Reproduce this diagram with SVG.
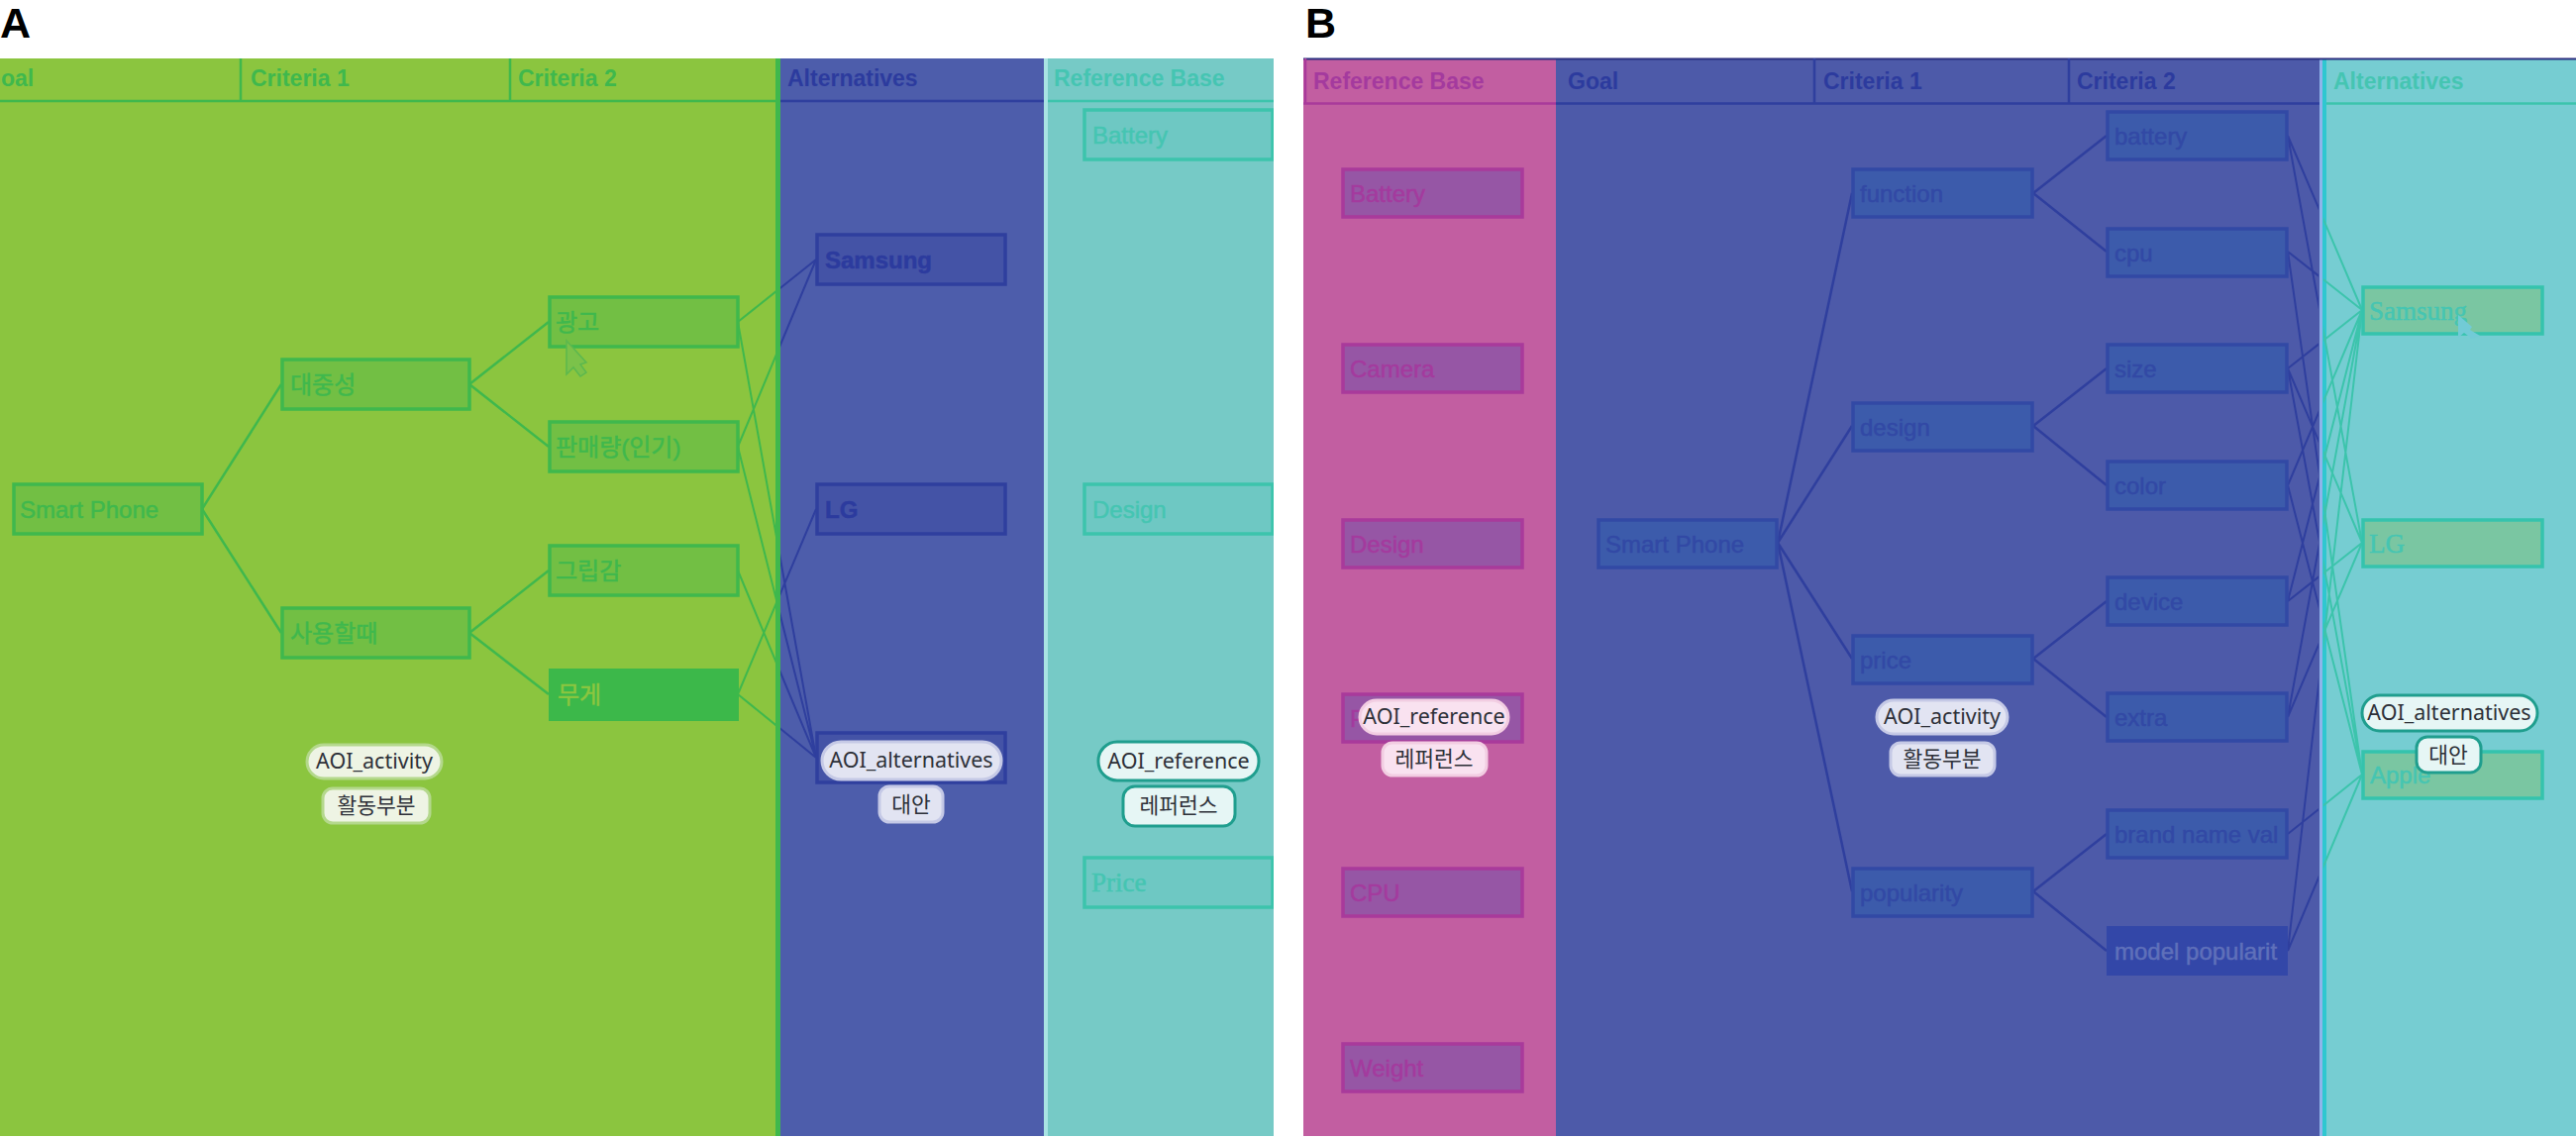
<svg xmlns="http://www.w3.org/2000/svg" width="2601" height="1149" viewBox="0 0 2601 1149">
<style>
text{font-family:"Liberation Sans","Noto Sans CJK KR",sans-serif;font-size:24px;stroke-width:.5}
.pt{font-family:"Noto Sans","Noto Sans CJK KR",sans-serif;font-size:21.5px;fill:#2d3038;text-anchor:middle}
.hl{font-weight:bold;font-size:43px;fill:#000}
.n{stroke-width:3.5}
.gs{stroke:#3fb84d}.gt{fill:#3fb84d;stroke:#3fb84d}.gf{fill:#72bf44}
.bs{stroke:#2f3f9e}.bt{fill:#2c3b9e;stroke:#2c3b9e}.bf{fill:#4453a6}
.ts{stroke:#3cc4ac}.tt{fill:#45c5b2;stroke:#45c5b2}.tf{fill:#6ec8c3}
.ps{stroke:#a93a9b}.pt2{fill:#a43a9e;stroke:#a43a9e}.pf{fill:#9656a5}
.cs{fill:#3c5bab;stroke:#3249a5}.ct{fill:#3249a5;stroke:#3249a5}
.as{fill:#7ac6a2;stroke:#35c3ad}
.h{font-weight:bold;font-size:23px;stroke:none}
.ser{font-family:"Liberation Serif",serif;font-size:27px}
.l{fill:none;stroke-width:2.5}
.thin{fill:none;stroke-width:2}
.pill{stroke-width:3}
</style>
<defs>
<clipPath id="cA1"><rect x="0" y="59" width="784" height="1090"/></clipPath>
<clipPath id="cA2"><rect x="788" y="59" width="266" height="1090"/></clipPath>
<clipPath id="cB1"><rect x="1571" y="59" width="770" height="1090"/></clipPath>
<clipPath id="cB2"><rect x="2346" y="59" width="255" height="1090"/></clipPath>
<clipPath id="cR"><rect x="1054" y="59" width="232" height="1090"/></clipPath>
<clipPath id="cL"><rect x="0" y="59" width="300" height="60"/></clipPath>
<g id="crossA">
<path d="M745 325L824 262M745 325L824 765M745 451L824 262M745 451L824 765M745 576L824 765M745 701L824 514M745 701L824 765"/>
</g>
<g id="crossB">
<path d="M2310 137L2385 313M2310 137L2385 548M2310 254L2385 313M2310 254L2385 782M2310 372L2385 313M2310 372L2385 548M2310 372L2385 782M2310 490L2385 313M2310 490L2385 782M2310 607L2385 313M2310 607L2385 548M2310 724L2385 313M2310 724L2385 548M2310 842L2385 782M2310 960L2385 313M2310 960L2385 782"/>
</g>
</defs>
<rect width="2601" height="1149" fill="#fff"/>
<text class="hl" x="0" y="38">A</text>
<text class="hl" x="1318" y="38">B</text>

<g id="panels">
<rect x="0" y="59" width="788" height="1088" fill="#8bc53f"/>
<rect x="783" y="59" width="5" height="1088" fill="#3fb84d"/>
<rect x="788" y="59" width="266" height="1088" fill="#4d5dab"/>
<rect x="1054" y="59" width="232" height="1088" fill="#76cac6"/>
<rect x="1054" y="59" width="4" height="1088" fill="#a9e3e3"/>
<rect x="1316" y="59" width="255" height="1088" fill="#c25ea1"/>
<rect x="1571" y="59" width="771" height="1088" fill="#4d5aa9"/>
<rect x="2342" y="59" width="259" height="1088" fill="#76cdd2"/>
<rect x="2342" y="59" width="3" height="1088" fill="#8fb4ea"/>
<rect x="2345" y="59" width="4" height="1088" fill="#2ec7d0"/>
<path d="M1316 59.5H2601" stroke="#2b2f80" stroke-width="2" fill="none"/>
<path class="gs l" d="M0 102H783M243 59V102M515 59V102"/>
<path class="bs l" d="M788 102H1054"/>
<path class="ts l" d="M1058 102H1286"/>
<path class="ps l" d="M1318 59V104.5M1316 104.5H1571"/>
<path class="bs l" d="M1571 104.5H2342M1832 59V104.5M2089 59V104.5"/>
<path class="ts l" d="M2349 104.5H2601"/>
<g clip-path="url(#cL)"><text class="gt h" x="-17" y="87">Goal</text></g>
<text class="gt h" x="253" y="87">Criteria 1</text>
<text class="gt h" x="523" y="87">Criteria 2</text>
<text class="bt h" x="795" y="87">Alternatives</text>
<text class="tt h" x="1064" y="87">Reference Base</text>
<text class="pt2 h" x="1326" y="90">Reference Base</text>
<text class="bt h" x="1583" y="90">Goal</text>
<text class="bt h" x="1841" y="90">Criteria 1</text>
<text class="bt h" x="2097" y="90">Criteria 2</text>
<text class="tt h" x="2356" y="90">Alternatives</text>
</g>

<g id="connectors">
<path class="gs l" d="M204 514L284 388M204 514L284 639M474 388L554 325M474 388L554 451M474 639L554 576M474 639L554 701"/>
<use href="#crossA" class="gs thin" clip-path="url(#cA1)"/>
<use href="#crossA" class="bs thin" clip-path="url(#cA2)"/>
<path class="bs l" d="M1795 548L1870 195M1795 548L1870 430M1795 548L1870 665M1795 548L1870 900M2053 195L2127 137M2053 195L2127 254M2053 430L2127 372M2053 430L2127 490M2053 665L2127 607M2053 665L2127 724M2053 900L2127 842M2053 900L2127 960"/>
<use href="#crossB" class="bs thin" clip-path="url(#cB1)"/>
<use href="#crossB" class="ts thin" clip-path="url(#cB2)"/>
</g>

<g id="A-smart-phone"><rect class="n gs gf" x="14" y="489" width="190" height="50"/><text class="gt" x="20" y="523">Smart Phone</text></g>
<g id="A-c1-1"><rect class="n gs gf" x="285" y="363" width="189" height="50"/><text class="gt" x="293" y="397">대중성</text></g>
<g id="A-c1-2"><rect class="n gs gf" x="285" y="614" width="189" height="50"/><text class="gt" x="293" y="648">사용할때</text></g>
<g id="A-c2-1"><rect class="n gs gf" x="555" y="300" width="190" height="50"/><text class="gt" x="561" y="334">광고</text></g>
<g id="A-c2-2"><rect class="n gs gf" x="555" y="426" width="190" height="50"/><text class="gt" x="561" y="460">판매량(인기)</text></g>
<g id="A-c2-3"><rect class="n gs gf" x="555" y="551" width="190" height="50"/><text class="gt" x="561" y="585">그립감</text></g>
<g id="A-c2-4"><rect x="554" y="675" width="192" height="53" fill="#3cb84a"/><text x="563" y="710" fill="#8cc63f" stroke="#8cc63f">무게</text></g>
<g id="A-samsung"><rect class="n bs bf" x="825" y="237" width="190" height="50"/><text class="bt" x="833" y="271" font-weight="bold">Samsung</text></g>
<g id="A-lg"><rect class="n bs bf" x="825" y="489" width="190" height="50"/><text class="bt" x="833" y="523" font-weight="bold">LG</text></g>
<g id="A-apple"><rect class="n bs bf" x="825" y="740" width="190" height="50"/></g>
<g id="A-ref" clip-path="url(#cR)">
<g id="A-battery"><rect class="n ts tf" x="1095" y="111" width="190" height="50"/><text class="tt" x="1103" y="145">Battery</text></g>
<g id="A-design"><rect class="n ts tf" x="1095" y="489" width="190" height="50"/><text class="tt" x="1103" y="523">Design</text></g>
<g id="A-price"><rect class="n ts tf" x="1095" y="866" width="190" height="50"/><text class="tt ser" x="1102" y="900">Price</text></g>
</g>

<g id="B-battery"><rect class="n ps pf" x="1356" y="171" width="181" height="48"/><text class="pt2" x="1363" y="204">Battery</text></g>
<g id="B-camera"><rect class="n ps pf" x="1356" y="348" width="181" height="48"/><text class="pt2" x="1363" y="381">Camera</text></g>
<g id="B-design"><rect class="n ps pf" x="1356" y="525" width="181" height="48"/><text class="pt2" x="1363" y="558">Design</text></g>
<g id="B-price"><rect class="n ps pf" x="1356" y="701" width="181" height="48"/><text class="pt2" x="1363" y="734">Price</text></g>
<g id="B-cpu"><rect class="n ps pf" x="1356" y="877" width="181" height="48"/><text class="pt2" x="1363" y="910">CPU</text></g>
<g id="B-weight"><rect class="n ps pf" x="1356" y="1054" width="181" height="48"/><text class="pt2" x="1363" y="1087">Weight</text></g>

<g id="B-smart-phone"><rect class="n cs" x="1614" y="525" width="180" height="48"/><text class="ct" x="1621" y="558">Smart Phone</text></g>
<g id="B-function"><rect class="n cs" x="1871" y="171" width="181" height="48"/><text class="ct" x="1878" y="204">function</text></g>
<g id="B-design2"><rect class="n cs" x="1871" y="407" width="181" height="48"/><text class="ct" x="1878" y="440">design</text></g>
<g id="B-price2"><rect class="n cs" x="1871" y="642" width="181" height="48"/><text class="ct" x="1878" y="675">price</text></g>
<g id="B-popularity"><rect class="n cs" x="1871" y="877" width="181" height="48"/><text class="ct" x="1878" y="910">popularity</text></g>
<g id="B-batt"><rect class="n cs" x="2128" y="113" width="181" height="48"/><text class="ct" x="2135" y="146">battery</text></g>
<g id="B-cpu2"><rect class="n cs" x="2128" y="231" width="181" height="48"/><text class="ct" x="2135" y="264">cpu</text></g>
<g id="B-size"><rect class="n cs" x="2128" y="348" width="181" height="48"/><text class="ct" x="2135" y="381">size</text></g>
<g id="B-color"><rect class="n cs" x="2128" y="466" width="181" height="48"/><text class="ct" x="2135" y="499">color</text></g>
<g id="B-device"><rect class="n cs" x="2128" y="583" width="181" height="48"/><text class="ct" x="2135" y="616">device</text></g>
<g id="B-extra"><rect class="n cs" x="2128" y="700" width="181" height="48"/><text class="ct" x="2135" y="733">extra</text></g>
<g id="B-brand"><rect class="n cs" x="2128" y="818" width="181" height="48"/><text class="ct" x="2135" y="851">brand name val</text></g>
<g id="B-model"><rect x="2127" y="935" width="183" height="50" fill="#3347a8"/><text x="2135" y="969" fill="#5f70ba" stroke="#5f70ba">model popularit</text></g>
<g id="B-samsung"><rect class="n as" x="2386" y="290" width="181" height="47"/><text class="tt ser" x="2392" y="323">Samsung</text></g>
<g id="B-lg"><rect class="n as" x="2386" y="525" width="181" height="47"/><text class="tt ser" x="2392" y="558">LG</text></g>
<g id="B-apple"><rect class="n as" x="2386" y="759" width="181" height="47"/><text class="tt" x="2393" y="791">Apple</text></g>

<g id="cursors">
<path d="M572 344V378L579 371L586 380L592 376L586 368L592 366Z" fill="#7bc24a" stroke="#5cb84e" stroke-width="1.5"/>
<path d="M2482 318V341L2488 336L2496 342L2504 339L2494 333L2496 330Z" fill="#72cbd6"/>
</g>

<g id="A-aoi-activity"><rect class="pill" x="310" y="752" width="136" height="34" rx="17" fill="#eef4e4" stroke="#b4d88c"/><text class="pt" x="378" y="776">AOI_activity</text></g>
<g id="A-activity-ko"><rect class="pill" x="326" y="796" width="108" height="35" rx="10" fill="#eef4e4" stroke="#b4d88c"/><text class="pt" x="380" y="821">활동부분</text></g>
<g id="A-aoi-alt"><rect class="pill" x="830" y="749" width="181" height="38" rx="19" fill="#e2e4f2" stroke="#c5c9e6"/><text class="pt" x="920" y="775">AOI_alternatives</text></g>
<g id="A-alt-ko"><rect class="pill" x="888" y="794" width="64" height="36" rx="10" fill="#e2e4f2" stroke="#c5c9e6"/><text class="pt" x="920" y="820">대안</text></g>
<g id="A-aoi-ref"><rect class="pill" x="1109" y="749" width="162" height="39" rx="19" fill="#e6f6f5" stroke="#1f9e8e"/><text class="pt" x="1190" y="776">AOI_reference</text></g>
<g id="A-ref-ko"><rect class="pill" x="1134" y="794" width="113" height="40" rx="12" fill="#e6f6f5" stroke="#1f9e8e"/><text class="pt" x="1190" y="821">레퍼런스</text></g>
<g id="B-aoi-ref"><rect class="pill" x="1373" y="707" width="150" height="34" rx="17" fill="#f9e2f0" stroke="#f2cde2"/><text class="pt" x="1448" y="731">AOI_reference</text></g>
<g id="B-ref-ko"><rect class="pill" x="1396" y="750" width="105" height="33" rx="10" fill="#f9e2f0" stroke="#f2cde2"/><text class="pt" x="1448" y="774">레퍼런스</text></g>
<g id="B-aoi-activity"><rect class="pill" x="1895" y="707" width="132" height="34" rx="17" fill="#e2e4f2" stroke="#c5c9e6"/><text class="pt" x="1961" y="731">AOI_activity</text></g>
<g id="B-activity-ko"><rect class="pill" x="1909" y="750" width="105" height="33" rx="10" fill="#e2e4f2" stroke="#c5c9e6"/><text class="pt" x="1961" y="774">활동부분</text></g>
<g id="B-aoi-alt"><rect class="pill" x="2385" y="702" width="177" height="36" rx="18" fill="#e6f6f5" stroke="#1f9e8e"/><text class="pt" x="2473" y="727">AOI_alternatives</text></g>
<g id="B-alt-ko"><rect class="pill" x="2440" y="744" width="65" height="36" rx="11" fill="#e6f6f5" stroke="#1f9e8e"/><text class="pt" x="2472" y="770">대안</text></g>
</svg>
